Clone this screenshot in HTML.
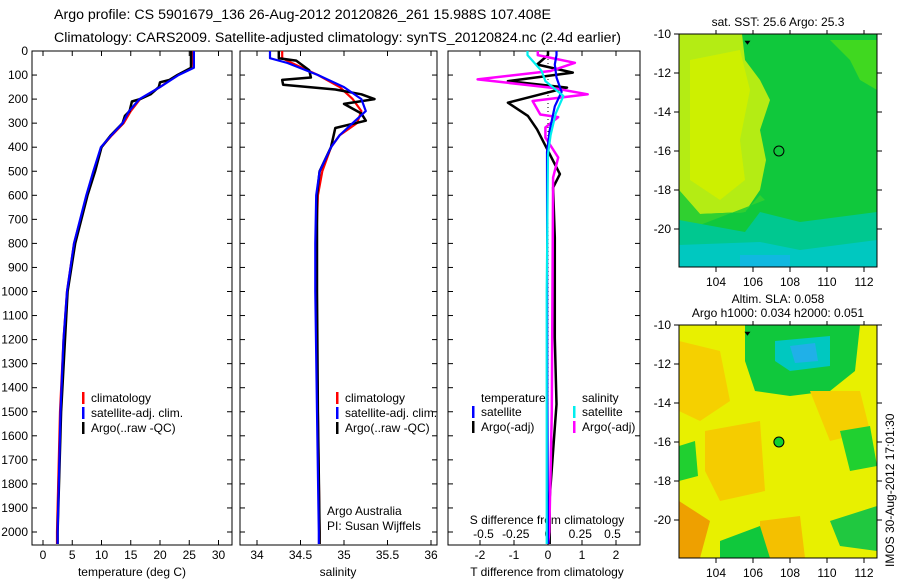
<!DOCTYPE html>
<html><head><meta charset="utf-8"><style>
body{margin:0;background:#fff}
svg text{font-family:"Liberation Sans",sans-serif;font-size:12px;fill:#000}
</style></head><body>
<svg id="fig" width="900" height="580" viewBox="0 0 900 580" xmlns="http://www.w3.org/2000/svg">
<rect width="900" height="580" fill="#fff"/>
<text x="54" y="19" style="font-size:14.2px">Argo profile: CS 5901679_136 26-Aug-2012 20120826_261 15.988S 107.408E</text>
<text x="54" y="42" style="font-size:14.2px">Climatology: CARS2009. Satellite-adjusted climatology: synTS_20120824.nc (2.4d earlier)</text>
<g id="maps"></g>
<g id="plots"></g>
<text transform="translate(894,567) rotate(-90)" style="font-size:12px">IMOS 30-Aug-2012 17:01:30</text>
</svg>
<script>
// ---------- data ----------
const depthTicks=[0,100,200,300,400,500,600,700,800,900,1000,1100,1200,1300,1400,1500,1600,1700,1800,1900,2000];
const tempTicks=[0,5,10,15,20,25,30];
const salTicks=[34,34.5,35,35.5,36];
const salTickLabels=["34","34.5","35","35.5","36"];
const tdiffTicks=[-2,-1,0,1,2];
const sdiffTicks=[-0.5,-0.25,0,0.25,0.5];
const sdiffTickLabels=["-0.5","-0.25","0","0.25","0.5"];
const tClimDepth=[0,70,100,150,200,250,300,350,400,500,600,800,1000,1200,1500,1800,2000,2050];
const tClim=[25.6,25.4,23,20,16.6,15,13.8,11.8,10,8.7,7.5,5.3,4.1,3.5,2.9,2.6,2.4,2.4];
const tSatDepth=[0,70,100,150,200,250,300,350,400,500,600,800,1000,1200,1500,1800,2000,2050];
const tSat=[25.8,25.8,23.2,20,16.5,14.7,13.6,11.7,9.9,8.6,7.4,5.3,4.1,3.5,3.0,2.7,2.5,2.5];
const tArgoDepth=[0,70,100,120,130,150,180,200,210,250,270,300,350,400,500,600,800,1000,1500,2000,2050];
const tArgo=[25.3,25.3,23,21.6,20,19.8,18.4,16.6,15.2,14.8,14,13.6,11.6,10,8.9,7.6,5.5,4.2,3.1,2.5,2.5];
const sClimDepth=[0,30,50,100,150,200,250,300,350,400,500,600,800,1000,1500,2000,2050];
const sClim=[34.29,34.29,34.4,34.7,34.95,35.1,35.2,35.15,34.95,34.85,34.75,34.7,34.68,34.68,34.7,34.72,34.72];
const sSatDepth=[0,30,50,100,150,200,250,300,350,400,500,600,800,1000,1500,2000,2050];
const sSat=[34.15,34.15,34.35,34.7,35.0,35.2,35.25,35.1,34.95,34.85,34.72,34.68,34.67,34.67,34.69,34.71,34.71];
const sArgoDepth=[0,30,40,80,110,120,140,160,180,200,220,260,290,320,400,500,600,1000,1500,2000,2050];
const sArgo=[34.25,34.25,34.45,34.6,34.62,34.29,34.3,34.9,35.2,35.35,35.0,35.2,35.25,34.9,34.85,34.72,34.69,34.69,34.7,34.72,34.72];
const dTArgoDepth=[0,17,56,90,125,152,215,270,326,415,512,568,776,1192,1469,1857,2050];
const dTArgo=[0,0,-0.32,0.73,-1.18,0.56,-1.18,-0.59,-0.32,0,0.35,0.15,0.2,0.2,0.25,0.05,0.05];
const dTSatDepth=[0,17,56,110,170,230,330,420,1400,2050];
const dTSat=[0.25,0.25,0.2,0.25,0.4,0.2,0.05,-0.03,-0.02,0];
const dSArgoDepth=[0,17,49,83,118,152,180,208,264,275,318,360,443,526,1500,2000,2050];
const dSArgo=[-0.08,-0.08,0.21,0.02,-0.55,0.02,0.31,-0.12,-0.06,0.08,-0.02,-0.02,0.08,0.04,0.03,0.01,0];
const dSSatDepth=[0,17,83,125,187,260,350,429,1000,2050];
const dSSat=[-0.16,-0.16,-0.05,-0.02,0.12,0.06,0.02,0,-0.01,-0.01];
const mapLonTicks=[104,106,108,110,112];
const mapLatTicks=[-10,-12,-14,-16,-18,-20];
const argoLon=107.4, argoLat=-16.0;

// ---------- helpers ----------
const NS="http://www.w3.org/2000/svg";
const plots=document.getElementById('plots');
const maps=document.getElementById('maps');
function mk(tag,attrs,parent){const e=document.createElementNS(NS,tag);for(const k in attrs)e.setAttribute(k,attrs[k]);(parent||plots).appendChild(e);return e;}
const yD=d=>51+d*0.2405;
const TOP=51,BOT=545;
const xT=v=>43+v*5.85;
const xS=v=>257+(v-34)*87;
const xTd=v=>548+v*34;
const xSd=v=>548+v*128;

function panel(x0,x1,name){
  const r=mk('rect',{x:x0,y:TOP,width:x1-x0,height:BOT-TOP,fill:'none',stroke:'#000','stroke-width':1});
  
  
}
function line(xs,ds,xf,color,w,name){
  const pts=xs.map((v,i)=>xf(v).toFixed(1)+','+yD(ds[i]).toFixed(1)).join(' ');
  const p=mk('polyline',{points:pts,fill:'none',stroke:color,'stroke-width':w,'stroke-linejoin':'round'});
  
  
}
function txt(x,y,s,anchor,name,size){
  const t=mk('text',{x:x,y:y,'text-anchor':anchor||'start'});
  if(size)t.style.fontSize=size+'px';
  t.textContent=s;
  
  
  return t;
}
function xticks(vals,labels,xf,x0,x1,ly,name){
  vals.forEach((v,i)=>{
    const x=xf(v);
    mk('line',{x1:x,x2:x,y1:BOT,y2:BOT-5,stroke:'#000'});
    mk('line',{x1:x,x2:x,y1:TOP,y2:TOP+5,stroke:'#000'});
    txt(x,ly,labels[i],'middle',name+'-tick-label');
  });
}

// ---------- panels ----------
panel(32,232,'temperature-panel');
panel(240,437,'salinity-panel');
panel(448,640,'difference-panel');
depthTicks.forEach(d=>{
  const y=yD(d);
  txt(28,y+4,String(d),'end','depth-tick-label');
  [[32,232],[240,437],[448,640]].forEach(([a,b])=>{
    mk('line',{x1:a,x2:a+5,y1:y,y2:y,stroke:'#000'});
    mk('line',{x1:b,x2:b-5,y1:y,y2:y,stroke:'#000'});
  });
});
xticks(tempTicks,tempTicks.map(String),xT,32,232,559,'temperature');
xticks(salTicks,salTickLabels,xS,240,437,559,'salinity');
xticks(tdiffTicks,tdiffTicks.map(String),xTd,448,640,559,'t-difference');
sdiffTicks.forEach((v,i)=>txt(xSd(v)*0.5+ (548+v*130)*0.5,538,sdiffTickLabels[i],'middle','s-difference-tick-label'));
txt(132,576,'temperature (deg C)','middle','temperature-axis-title');
txt(338,576,'salinity','middle','salinity-axis-title');
txt(547,576,'T difference from climatology','middle','t-difference-axis-title');
txt(547,524,'S difference from climatology','middle','s-difference-axis-title');

// zero dotted
const z=mk('line',{x1:548,x2:548,y1:TOP,y2:BOT,stroke:'#000','stroke-dasharray':'1,3'});



line(tClim,tClimDepth,xT,'#f00',2.2,'temperature-climatology-line');
line(tArgo,tArgoDepth,xT,'#000',2.5,'temperature-argo-line');
line(tSat,tSatDepth,xT,'#00f',2.2,'temperature-satellite-line');
line(sClim,sClimDepth,xS,'#f00',2.2,'salinity-climatology-line');
line(sArgo,sArgoDepth,xS,'#000',2.5,'salinity-argo-line');
line(sSat,sSatDepth,xS,'#00f',2.2,'salinity-satellite-line');
line(dTArgo,dTArgoDepth,xTd,'#000',2.5,'t-diff-argo-line');
line(dSArgo,dSArgoDepth,xSd,'#f0f',2.5,'s-diff-argo-line');
line(dTSat,dTSatDepth,xTd,'#00f',2.2,'t-diff-satellite-line');
line(dSSat,dSSatDepth,xSd,'#0ee',2.2,'s-diff-satellite-line');

// legends
function legItem(x,y,color,label,name){
  if(color){const m=mk('rect',{x:x-9,y:y-10,width:2.5,height:12,fill:color});
    
    }
  txt(x,y,label,'start',name);
}
[[91,'#f00','climatology'],[91,'#00f','satellite-adj. clim.'],[91,'#000','Argo(..raw -QC)']].forEach((it,i)=>legItem(it[0],402+i*15,it[1],it[2],'temperature-legend-entry'));
[[345,'#f00','climatology'],[345,'#00f','satellite-adj. clim.'],[345,'#000','Argo(..raw -QC)']].forEach((it,i)=>legItem(it[0],402+i*15,it[1],it[2],'salinity-legend-entry'));
legItem(481,402,null,'temperature','diff-legend-header');
legItem(481,416,'#00f','satellite','diff-legend-entry');
legItem(481,431,'#000','Argo(-adj)','diff-legend-entry');
legItem(582,402,null,'salinity','diff-legend-header');
legItem(582,416,'#0ee','satellite','diff-legend-entry');
legItem(582,431,'#f0f','Argo(-adj)','diff-legend-entry');
txt(327,515,'Argo Australia','start','credit-text');
txt(327,530,'PI: Susan Wijffels','start','pi-text');

// ---------- maps ----------
const mx=v=>679+(v-102)*18.5;
function mapBox(y0,shapes,title,name){
  const g=mk('g',{},maps);
  
  
  const my=v=>y0+(-10-v)*19.5;
  mk('rect',{x:679,y:y0,width:198,height:233,fill:shapes.base},g);
  shapes.polys.forEach(p=>mk('polygon',{points:p[0],fill:p[1],transform:`translate(0,${y0-34})`},g));
  mk('rect',{x:679,y:y0,width:198,height:233,fill:'none',stroke:'#000'},g);
  mapLatTicks.forEach(v=>{const y=my(v);mk('line',{x1:679,x2:674,y1:y,y2:y,stroke:'#000'},g);mk('line',{x1:877,x2:882,y1:y,y2:y,stroke:'#000'},g);
    const t=mk('text',{x:671,y:y+4,'text-anchor':'end'},g);t.textContent=String(v);});
  mapLonTicks.forEach(v=>{const x=mx(v);mk('line',{x1:x,x2:x,y1:y0+233,y2:y0+238,stroke:'#000'},g);mk('line',{x1:x,x2:x,y1:y0,y2:y0-4,stroke:'#000'},g);
    const t=mk('text',{x:x,y:y0+252,'text-anchor':'middle'},g);t.textContent=String(v);});
  const c=mk('circle',{cx:mx(argoLon),cy:my(argoLat),r:5,fill:shapes.dot,stroke:'#000'},g);
  
  
  mk('path',{d:`M${mx(105.7)-3},${my(-10.45)-2} h6 l-3,4 z`,fill:'#000'},g);
  title.forEach((s,i)=>{const t=mk('text',{x:778,y:y0-22+i*14+(title.length==1?14:0),'text-anchor':'middle'},g);t.textContent=s;});
}
mapBox(34,{base:'#10c83c',dot:'none',polys:[
 ['679,34 742,34 745,60 760,80 770,100 760,130 766,160 760,190 745,212 700,214 679,190','#b4ec14'],
 ['690,60 740,50 750,90 740,140 745,180 720,200 690,180','#cdf000'],
 ['679,190 700,214 745,212 760,195 765,200 700,225 679,220','#30d030'],
 ['830,40 877,40 877,90 860,80 850,60','#40d820'],
 ['679,220 745,232 760,212 800,222 877,212 877,267 679,267','#00c890'],
 ['679,245 760,242 800,250 877,240 877,267 679,267','#00c8c0'],
 ['740,255 790,255 790,267 740,267','#10b8e0']]},['sat. SST: 25.6  Argo: 25.3'],'sst-map');
mapBox(325,{base:'#e8f000',dot:'#10d030',polys:[
 ['745,34 860,34 855,80 830,100 790,105 755,100 745,70','#10c83c'],
 ['775,50 830,45 830,75 790,80 775,70','#00c8c0'],
 ['790,55 815,52 818,70 795,72','#20b0e8'],
 ['679,50 720,60 730,110 700,130 679,120','#f5d000'],
 ['705,140 760,130 765,200 720,210 705,180','#f5cc00'],
 ['810,100 860,100 870,140 830,150','#f5d000'],
 ['679,210 710,230 700,267 679,267','#eea000'],
 ['760,230 800,225 805,267 760,267','#f4c000'],
 ['720,250 760,235 770,267 720,267','#10c83c'],
 ['830,230 877,215 877,260 840,255','#20c840'],
 ['840,140 870,135 877,175 850,180','#20d030'],
 ['679,155 695,150 698,185 679,190','#20d030']]},['Altim. SLA: 0.058','Argo h1000: 0.034 h2000: 0.051'],'sla-map');
</script>
</body></html>
